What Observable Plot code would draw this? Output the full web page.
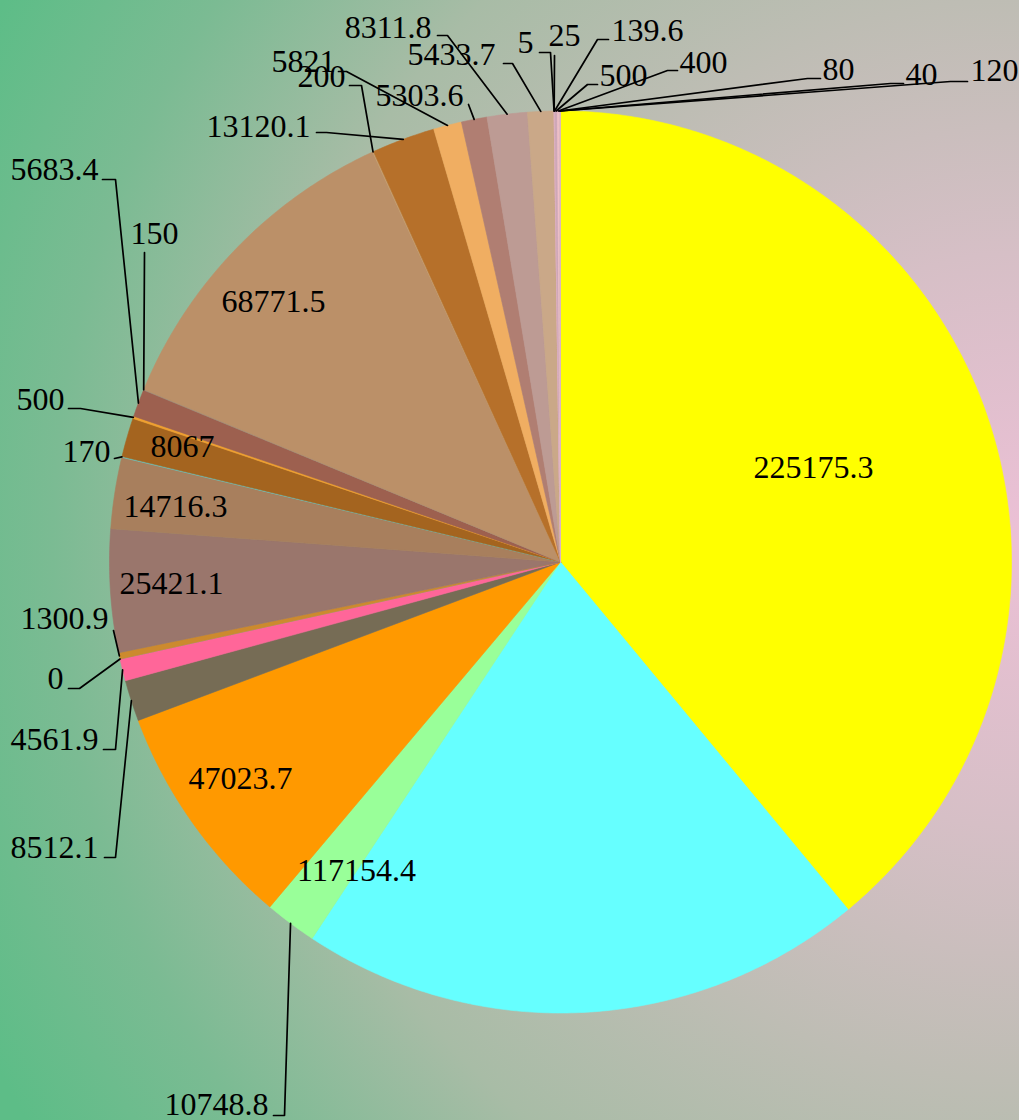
<!DOCTYPE html>
<html>
<head>
<meta charset="utf-8">
<script src="https://cdn.jsdelivr.net/npm/d3@7"></script>
<script src="https://cdn.jsdelivr.net/npm/@observablehq/plot@0.6"></script>
<style>
  html, body { margin: 0; padding: 0; }
  body {
    width: 1019px; height: 1120px; overflow: hidden;
    background: radial-gradient(circle 1150px at 1019px 540px,
      #ecc0d6 0%, #d6bfc6 25%, #bebdb4 47%, #a8bca6 66%, #7bbb93 84%, #5dbd87 100%);
  }
  #chart svg { display: block; background: transparent; }
</style>
</head>
<body>
<div id="chart"></div>
<script>
// ---- data (clockwise from 12 o'clock) ----
const labels = ["225175.3","117154.4","10748.8","47023.7","8512.1","4561.9","0","1300.9","25421.1","14716.3",
  "170","8067","500","5683.4","150","68771.5","200","13120.1","5821","5303.6",
  "8311.8","5433.7","5","25","139.6","500","400","80","40","120"];
const values = [225175.3,117154.4,10748.8,47023.7,8512.1,4561.9,0,1300.9,25421.1,14716.3,
  170,8067,500,5683.4,150,68771.5,200,13120.1,5821,5303.6,
  8311.8,5433.7,5,25,139.6,500,400,80,40,120];
const colors = ["#ffff00","#66ffff","#99ff99","#ff9900","#766c55","#ff6699","#999999","#cc8a2e","#9a766c","#a87f5d",
  "#66cccc","#a4641f","#f0a030","#9d604f","#a08c7c","#bb9068","#c8a070","#b6702a","#f0ae62","#b07e72",
  "#bd9b94","#caa888","#e6b8c0","#d8a8b0","#e0b4c4","#cfa8b8","#f0c0c8","#d0b0b8","#e8c0c8","#dcb4c0"];

// ---- layout (pie frame and label placement, in pixels of the 1019x1120 frame) ----
const CX = 560, CY = 561.5, R = 451;
const insideLabels = [
  {i: 0, at: [813, 467]}, {i: 1, at: [356, 870]}, {i: 3, at: [240, 778]},
  {i: 8, at: [171, 583]}, {i: 9, at: [175, 506]}, {i: 11, at: [182, 446]}, {i: 15, at: [273, 301]}
];
const outsideLabels = [
  {i: 2,  elbow: [284, 1115], end: [273, 1115], text: [268, 1114], anchor: "end"},
  {i: 4,  elbow: [115, 857],  end: [104, 857],  text: [98, 857],   anchor: "end"},
  {i: 5,  elbow: [115, 749],  end: [103, 749],  text: [98, 749],   anchor: "end"},
  {i: 6,  elbow: [79, 688],   end: [68, 688],   text: [63, 688],   anchor: "end"},
  {i: 7,  elbow: [113, 630],  end: [113, 630],  text: [108, 628],  anchor: "end"},
  {i: 10, elbow: [114, 458],  end: [114, 458],  text: [110, 461],  anchor: "end"},
  {i: 12, elbow: [80, 408],   end: [68, 408],   text: [64, 409],   anchor: "end"},
  {i: 13, elbow: [115, 179],  end: [102, 179],  text: [98, 179],   anchor: "end"},
  {i: 14, elbow: [144, 252],  end: [144, 252],  text: [130, 243],  anchor: "start"},
  {i: 16, elbow: [361, 85],   end: [349, 85],   text: [345, 86],   anchor: "end"},
  {i: 17, elbow: [326, 132],  end: [316, 132],  text: [310, 136],  anchor: "end"},
  {i: 18, elbow: [346, 71],   end: [338, 71],   text: [335, 71],   anchor: "end"},
  {i: 19, elbow: [468, 104],  end: [468, 104],  text: [463, 105],  anchor: "end"},
  {i: 20, elbow: [447, 35],   end: [437, 35],   text: [431, 37],   anchor: "end"},
  {i: 21, elbow: [512, 63],   end: [503, 63],   text: [495, 64],   anchor: "end"},
  {i: 22, elbow: [550, 52],   end: [539, 52],   text: [533, 52],   anchor: "end"},
  {i: 23, elbow: [554, 55],   end: [554, 55],   text: [548, 45],   anchor: "start"},
  {i: 24, elbow: [597, 39],   end: [608, 39],   text: [611, 40],   anchor: "start"},
  {i: 25, elbow: [587, 84],   end: [597, 84],   text: [599, 85],   anchor: "start"},
  {i: 26, elbow: [667, 70],   end: [677, 70],   text: [679, 72],   anchor: "start"},
  {i: 27, elbow: [807, 78],   end: [820, 78],   text: [822, 79],   anchor: "start"},
  {i: 28, elbow: [890, 83],   end: [903, 83],   text: [905, 84],   anchor: "start"},
  {i: 29, elbow: [950, 81],   end: [967, 81],   text: [970, 80],   anchor: "start"}
];
const FONT = "'Liberation Serif', 'DejaVu Serif', serif";
const FONT_SIZE = 32;

// ---- build geometry in pie data units (unit circle, y up) ----
const toData = ([px, py]) => [(px - CX) / R, (CY - py) / R];
const arcs = d3.pie().sort(null).value(d => d).startAngle(0).endAngle(2 * Math.PI)(values);

const slicePts = [];
arcs.forEach((a, i) => {
  const n = Math.max(2, Math.ceil((a.endAngle - a.startAngle) / (Math.PI / 360)) + 1);
  slicePts.push({i, x: 0, y: 0, color: colors[i]});
  for (let k = 0; k < n; k++) {
    const t = a.startAngle + (a.endAngle - a.startAngle) * k / (n - 1);
    slicePts.push({i, x: Math.sin(t), y: Math.cos(t), color: colors[i]});
  }
  slicePts.push({i, x: 0, y: 0, color: colors[i]});
});

const leaderPts = [];
const outText = [];
outsideLabels.forEach(o => {
  const a = arcs[o.i];
  const m = (a.startAngle + a.endAngle) / 2;
  const [ex, ey] = toData(o.elbow);
  const [nx, ny] = toData(o.end);
  leaderPts.push({i: o.i, x: Math.sin(m), y: Math.cos(m)});
  leaderPts.push({i: o.i, x: ex, y: ey});
  leaderPts.push({i: o.i, x: nx, y: ny});
  const [tx, ty] = toData(o.text);
  outText.push({x: tx, y: ty, label: labels[o.i], anchor: o.anchor});
});
const inText = insideLabels.map(d => {
  const [x, y] = toData(d.at);
  return {x, y, label: labels[d.i]};
});

const chart = Plot.plot({
  width: 1019,
  height: 1120,
  margin: 0,
  x: {domain: [-1, 1], range: [CX - R, CX + R], axis: null},
  y: {domain: [-1, 1], range: [CY + R, CY - R], axis: null},
  color: {type: "identity"},
  style: {background: "transparent", fontFamily: FONT},
  marks: [
    Plot.line(slicePts, {x: "x", y: "y", z: "i", fill: "color", stroke: "color", strokeWidth: 0.6, curve: "linear"}),
    Plot.line(leaderPts, {x: "x", y: "y", z: "i", stroke: "#000", strokeWidth: 1.7, curve: "linear"}),
    Plot.text(inText, {x: "x", y: "y", text: "label", fontSize: FONT_SIZE, fontFamily: FONT, fill: "#000", textAnchor: "middle"}),
    Plot.text(outText.filter(d => d.anchor === "end"), {x: "x", y: "y", text: "label", fontSize: FONT_SIZE, fontFamily: FONT, fill: "#000", textAnchor: "end", lineAnchor: "bottom"}),
    Plot.text(outText.filter(d => d.anchor === "start"), {x: "x", y: "y", text: "label", fontSize: FONT_SIZE, fontFamily: FONT, fill: "#000", textAnchor: "start", lineAnchor: "bottom"})
  ]
});
document.getElementById("chart").appendChild(chart);
</script>
</body>
</html>
